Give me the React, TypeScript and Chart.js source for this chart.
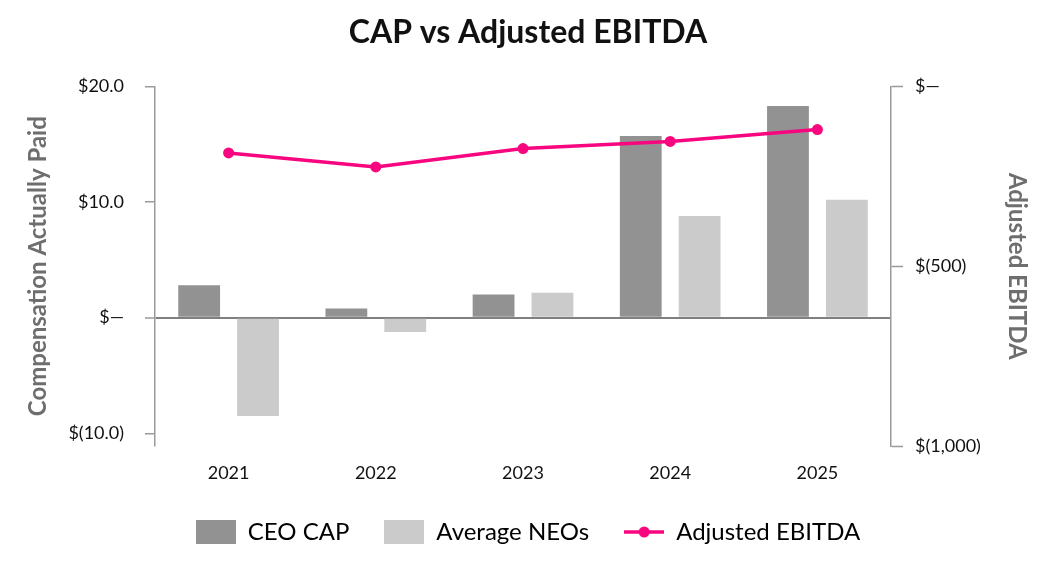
import React, { useEffect, useRef } from 'react';
import { Chart, registerables } from 'chart.js';

Chart.register(...registerables);

const years = ['2021', '2022', '2023', '2024', '2025'];
const ceoCap = [2.8, 0.8, 2.0, 15.7, 18.3];
const avgNeos = [-8.5, -1.25, 2.15, 8.8, 10.2];
const adjEbitda = [-185, -224, -173, -153, -120];
const leftTicks = [-10, 0, 10, 20];
const rightTicks = [-1000, -500, 0];

const CEO_COLOR = '#929292';
const NEO_COLOR = '#cbcbcb';
const LINE_COLOR = '#f7067f';
const AXIS_COLOR = '#9a9a9a';
const AXIS_TITLE_COLOR = '#6e6e6e';

function fmtLeft(v: number): string {
  if (v === 0) return '$\u2014';
  if (v < 0) return `$(${Math.abs(v).toFixed(1)})`;
  return `$${v.toFixed(1)}`;
}
function fmtRight(v: number): string {
  if (v === 0) return '$\u2014';
  const a = Math.abs(v).toLocaleString('en-US');
  return v < 0 ? `$(${a})` : `$${a}`;
}

function boxIcon(color: string): HTMLCanvasElement {
  const c = document.createElement('canvas');
  c.width = 40;
  c.height = 24;
  const g = c.getContext('2d')!;
  g.fillStyle = color;
  g.fillRect(0, 0, 40, 24);
  return c;
}
function lineIcon(color: string): HTMLCanvasElement {
  const c = document.createElement('canvas');
  c.width = 40;
  c.height = 24;
  const g = c.getContext('2d')!;
  g.strokeStyle = color;
  g.lineWidth = 3.5;
  g.beginPath();
  g.moveTo(0, 12);
  g.lineTo(40, 12);
  g.stroke();
  g.fillStyle = color;
  g.beginPath();
  g.arc(20, 12, 5.5, 0, Math.PI * 2);
  g.fill();
  return c;
}

export default function App() {
  const ref = useRef<HTMLCanvasElement | null>(null);

  useEffect(() => {
    if (!ref.current) return;
    Chart.defaults.font.family = 'Lato';
    const icons = [boxIcon(CEO_COLOR), boxIcon(NEO_COLOR), lineIcon(LINE_COLOR)];
    const chart = new Chart(ref.current, {
      type: 'bar',
      data: {
        labels: years,
        datasets: [
          {
            type: 'line',
            label: 'Adjusted EBITDA',
            data: adjEbitda,
            yAxisID: 'y1',
            borderColor: LINE_COLOR,
            backgroundColor: LINE_COLOR,
            borderWidth: 3.5,
            pointRadius: 5.5,
            pointBackgroundColor: LINE_COLOR,
            pointBorderWidth: 0,
            tension: 0,
            order: 0,
          } as any,
          {
            type: 'bar',
            label: 'CEO CAP',
            data: ceoCap,
            yAxisID: 'y',
            backgroundColor: CEO_COLOR,
            barPercentage: 0.71,
            categoryPercentage: 0.8,
            order: 1,
          },
          {
            type: 'bar',
            label: 'Average NEOs',
            data: avgNeos,
            yAxisID: 'y',
            backgroundColor: NEO_COLOR,
            barPercentage: 0.71,
            categoryPercentage: 0.8,
            order: 1,
          },
        ],
      },
      options: {
        animation: false,
        responsive: true,
        maintainAspectRatio: false,
        layout: { padding: { left: 0, right: 0, top: 0, bottom: 22 } },
        scales: {
          x: {
            grid: { display: false, drawTicks: false },
            border: { display: false },
            ticks: { font: { size: 18 }, color: '#111', padding: 16 },
            afterFit: (s: any) => {
              s.height = 39;
            },
          },
          y: {
            position: 'left',
            min: -11.1,
            max: 20,
            afterBuildTicks: (s: any) => {
              s.ticks = leftTicks.map((v) => ({ value: v }));
            },
            afterFit: (s: any) => {
              s.width = 155;
            },
            border: { display: true, color: AXIS_COLOR, width: 1.5 },
            grid: {
              drawOnChartArea: true,
              color: (c: any) => (c.tick && c.tick.value === 0 ? '#808080' : 'rgba(0,0,0,0)'),
              lineWidth: (c: any) => (c.tick && c.tick.value === 0 ? 2 : 1.5),
              tickColor: AXIS_COLOR,
              tickWidth: 1.5,
              tickLength: 10,
            },
            ticks: {
              padding: 21,
              font: { size: 18 },
              color: '#111',
              callback: (v: any) => fmtLeft(Number(v)),
            },
            title: {
              display: true,
              text: 'Compensation Actually Paid',
              color: AXIS_TITLE_COLOR,
              font: { size: 24, weight: 'bold' },
              padding: { top: 23.5, bottom: 0 },
            },
          },
          y1: {
            position: 'right',
            min: -1000,
            max: 0,
            afterBuildTicks: (s: any) => {
              s.ticks = rightTicks.map((v) => ({ value: v }));
            },
            afterFit: (s: any) => {
              s.width = 165;
            },
            border: { display: true, color: AXIS_COLOR, width: 1.5 },
            grid: {
              drawOnChartArea: false,
              color: AXIS_COLOR,
              tickColor: AXIS_COLOR,
              tickWidth: 1.5,
              tickLength: 12,
            },
            ticks: {
              padding: 12,
              font: { size: 18 },
              color: '#111',
              callback: (v: any) => fmtRight(Number(v)),
            },
            title: {
              display: true,
              text: 'Adjusted EBITDA',
              color: AXIS_TITLE_COLOR,
              font: { size: 24, weight: 'bold' },
              padding: { top: 24.5, bottom: 0 },
            },
          },
        },
        plugins: {
          title: {
            display: true,
            text: 'CAP vs Adjusted EBITDA',
            color: '#111',
            font: { size: 32, weight: 'bold' },
            padding: { top: 13, bottom: 35 },
          },
          legend: {
            position: 'bottom',
            labels: {
              usePointStyle: true,
              pointStyleWidth: 40,
              boxHeight: 24,
              padding: 35,
              color: '#111',
              font: { size: 24 },
              generateLabels: () => [
                { text: 'CEO CAP', pointStyle: icons[0], fillStyle: CEO_COLOR, strokeStyle: CEO_COLOR, lineWidth: 0, hidden: false, datasetIndex: 1 },
                { text: 'Average NEOs', pointStyle: icons[1], fillStyle: NEO_COLOR, strokeStyle: NEO_COLOR, lineWidth: 0, hidden: false, datasetIndex: 2 },
                { text: 'Adjusted EBITDA', pointStyle: icons[2], fillStyle: LINE_COLOR, strokeStyle: LINE_COLOR, lineWidth: 0, hidden: false, datasetIndex: 0 },
              ] as any,
            },
          },
          tooltip: { enabled: false },
        },
      } as any,
    });
    return () => chart.destroy();
  }, []);

  return (
    <div style={{ position: 'fixed', left: 0, top: 0, width: 1056, height: 576, background: '#fff' }}>
      <canvas ref={ref} />
    </div>
  );
}
